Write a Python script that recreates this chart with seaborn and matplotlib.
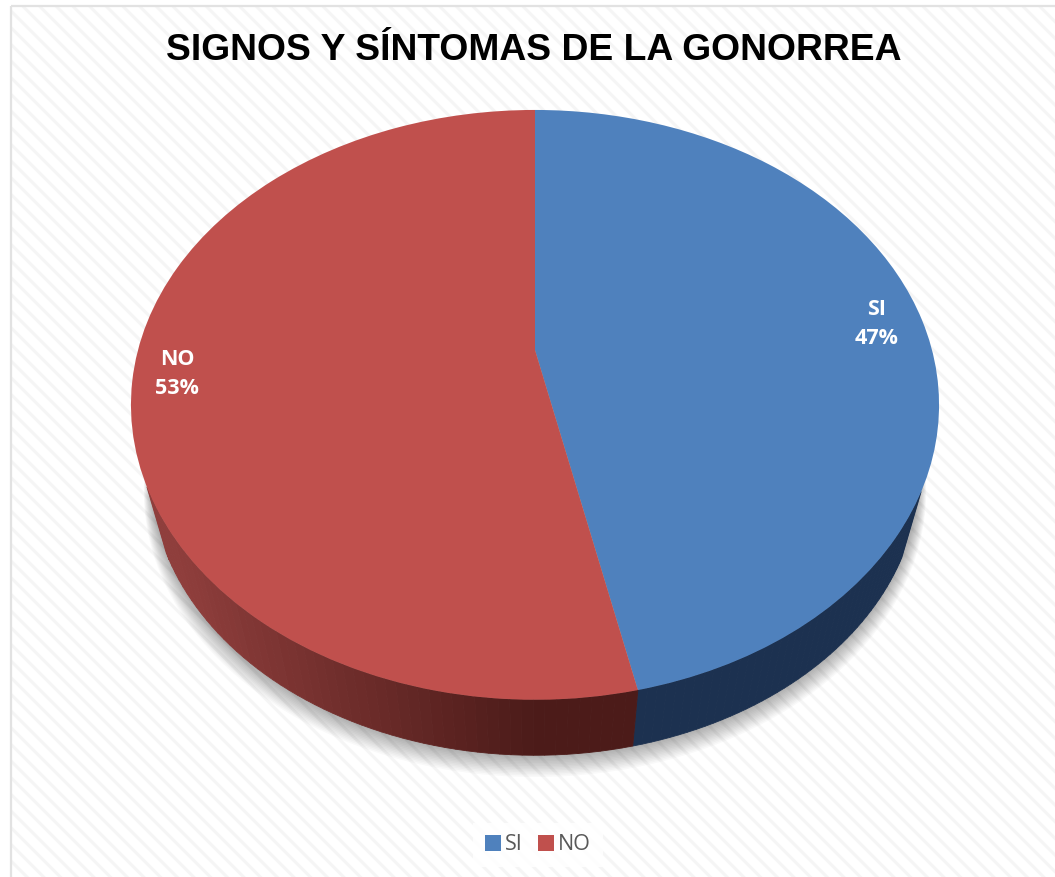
import numpy as np
import matplotlib
matplotlib.use("Agg")
import matplotlib.pyplot as plt
from matplotlib.patches import Rectangle
from matplotlib.transforms import Transform
import seaborn as sns

TITLE = "SIGNOS Y SÍNTOMAS DE LA GONORREA"
categories = ["SI", "NO"]
values = [46.6, 53.4]
colors = ["#4f81bd", "#c0504d"]
wall_blue = ["#1c3150", "#1c3150"]
wall_red = ["#8f3e3c", "#4c1b19"]

W, H = 1055, 877
CX, CY, AX, BY, K = 535.0, 350.0, 397.0, 284.7, 0.186
WALL_S, WALL_Y = 0.95, 423.0


def project(u, v):
    d = 1 + K * v
    return CX + AX * u / d, CY - BY * v / d


def project_wall(u, v, s=WALL_S, y0=WALL_Y):
    x, y = project(u, v)
    return CX + s * (x - CX), y0 + s * (y - CY)


class Perspective(Transform):
    input_dims = output_dims = 2
    is_affine = False
    has_inverse = False

    def transform_non_affine(self, values):
        xy = np.asarray(values, dtype=float)
        x, y = project(xy[:, 0], xy[:, 1])
        return np.column_stack([x, y])


sns.set_theme(style="white")
plt.rcParams["hatch.linewidth"] = 2.2
fig = plt.figure(figsize=(W / 100, H / 100), dpi=100)
ax = fig.add_axes([0, 0, 1, 1])

wedges, texts = ax.pie(
    values,
    colors=sns.color_palette(colors),
    startangle=90,
    counterclock=False,
    labels=[f"{c}\n{round(v)}%" for c, v in zip(categories, values)],
    labeldistance=0.88,
    wedgeprops=dict(linewidth=0, zorder=5),
    textprops=dict(color="white", fontsize=15.5, fontweight="bold", family="Open Sans", linespacing=1.5),
)
ax.set_aspect("auto")
ax.set_xlim(0, W)
ax.set_ylim(H, 0)
ax.set_axis_off()
persp = Perspective() + ax.transData
for w in wedges:
    w.set_transform(persp)
for t in texts:
    t.set_transform(persp)
    t.set_ha("center")
    t.set_va("center")
    t.set_zorder(6)
no_x, no_y = texts[1].get_position()
texts[1].set_position((no_x * 1.014, no_y * 0.9))

# page background
ax.add_patch(Rectangle((11, 6), W, H, facecolor="white", edgecolor="#f5f5f5", hatch="\\\\", lw=0, zorder=0))
ax.add_patch(Rectangle((11, 6), W, H, facecolor="none", edgecolor="#e2e2e2", lw=1.6, zorder=0.5))

# soft shadow and side wall
ang = np.linspace(0, 2 * np.pi, 400)
for i in range(1, 15):
    x, y = project_wall(np.cos(ang), np.sin(ang), WALL_S + 0.0013 * i, WALL_Y + 1.1 * i)
    ax.fill(x, y, color="black", alpha=0.022, lw=0, zorder=1)

starts = np.cumsum([0] + values[:-1]) / sum(values)
fracs = np.array(values) / sum(values)
for start, frac, pal in zip(starts, fracs, [wall_blue, wall_red]):
    theta = np.pi / 2 - 2 * np.pi * (start + np.linspace(0, frac, 140))
    shades = sns.blend_palette(pal, 64)
    for a, b in zip(theta[:-1], theta[1:]):
        t = np.array([a, b])
        xt, yt = project(np.cos(t), np.sin(t))
        if yt.mean() < 490:
            continue
        xb, yb = project_wall(np.cos(t), np.sin(t))
        shade = shades[int(np.clip((xt.mean() - 170) / 360, 0, 1) * 63)]
        ax.fill(np.r_[xt, xb[::-1]], np.r_[yt, yb[::-1]], color=shade, lw=0.6, zorder=3)

ax.text(534, 51, TITLE, ha="center", va="center", fontsize=26.8, fontweight="bold",
        family="Liberation Sans", color="black", zorder=7)

leg = ax.legend(
    wedges, categories, loc="center", bbox_to_anchor=(538 / W, 1 - 845 / H),
    ncol=2, frameon=True, framealpha=0.85, edgecolor="none", facecolor="white", fancybox=False,
    prop=dict(family="Open Sans", size=15.5), labelcolor="#595959",
    handlelength=0.74, handleheight=0.74, handletextpad=0.2, columnspacing=0.7, borderpad=0.55,
    borderaxespad=0,
)
leg.set_zorder(7)

fig.savefig("out.png", dpi=100)
